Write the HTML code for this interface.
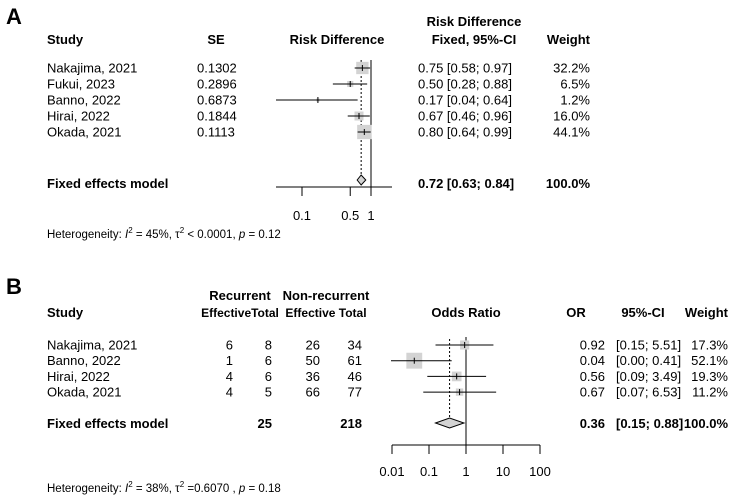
<!DOCTYPE html>
<html><head><meta charset="utf-8"><style>
body{margin:0;background:#fff}
svg{font-family:"Liberation Sans",Arial,sans-serif;font-size:13px}
.b{font-weight:bold}
</style></head><body>
<svg width="732" height="499" viewBox="0 0 732 499">
<g id="A">
<text x="6" y="24" font-size="22" class="b">A</text>
<text x="47" y="44" class="b">Study</text>
<text x="216" y="44" class="b" text-anchor="middle">SE</text>
<text x="337" y="44" class="b" text-anchor="middle">Risk Difference</text>
<text x="474" y="26" class="b" text-anchor="middle">Risk Difference</text>
<text x="474" y="44" class="b" text-anchor="middle">Fixed, 95%-CI</text>
<text x="590" y="44" class="b" text-anchor="end">Weight</text>
<g id="Arows"></g>
<text x="47" y="188" class="b">Fixed effects model</text>
<text x="418" y="188" class="b">0.72 [0.63; 0.84]</text>
<text x="590" y="188" class="b" text-anchor="end">100.0%</text>
<g id="Aaxis"></g>
<text x="47" y="238" font-size="11.5">Heterogeneity: <tspan font-style="italic">I</tspan><tspan dy="-5" font-size="8">2</tspan><tspan dy="5"> = 45%, τ</tspan><tspan dy="-5" font-size="8">2</tspan><tspan dy="5"> &lt; 0.0001, </tspan><tspan font-style="italic">p</tspan> = 0.12</text>
</g>
<g id="B">
<text x="6" y="294" font-size="22" class="b">B</text>
<text x="240" y="300" class="b" text-anchor="middle">Recurrent</text>
<text x="326" y="300" class="b" text-anchor="middle">Non-recurrent</text>
<text x="47" y="317" class="b">Study</text>
<text x="240" y="317" class="b" text-anchor="middle" font-size="12">EffectiveTotal</text>
<text x="326" y="317" class="b" text-anchor="middle" font-size="12">Effective Total</text>
<text x="466" y="317" class="b" text-anchor="middle">Odds Ratio</text>
<text x="576" y="317" class="b" text-anchor="middle">OR</text>
<text x="643" y="317" class="b" text-anchor="middle">95%-CI</text>
<text x="728" y="317" class="b" text-anchor="end">Weight</text>
<g id="Brows"></g>
<text x="47" y="428" class="b">Fixed effects model</text>
<text x="272" y="428" class="b" text-anchor="end">25</text>
<text x="362" y="428" class="b" text-anchor="end">218</text>
<text x="605" y="428" class="b" text-anchor="end">0.36</text>
<text x="616" y="428" class="b">[0.15; 0.88]</text>
<text x="728" y="428" class="b" text-anchor="end">100.0%</text>
<g id="Baxis"></g>
<text x="47" y="492" font-size="11.5">Heterogeneity: <tspan font-style="italic">I</tspan><tspan dy="-5" font-size="8">2</tspan><tspan dy="5"> = 38%, τ</tspan><tspan dy="-5" font-size="8">2</tspan><tspan dy="5"> =0.6070 , </tspan><tspan font-style="italic">p</tspan> = 0.18</text>
</g>
</svg>
<script>
const NS="http://www.w3.org/2000/svg";
const aStudies=["Nakajima, 2021","Fukui, 2023","Banno, 2022","Hirai, 2022","Okada, 2021"];
const aSE=["0.1302","0.2896","0.6873","0.1844","0.1113"];
const aEst=[0.75,0.50,0.17,0.67,0.80];
const aLo=[0.58,0.28,0.04,0.46,0.64];
const aHi=[0.97,0.88,0.64,0.96,0.99];
const aW=[32.2,6.5,1.2,16.0,44.1];
const aFixed=[0.72,0.63,0.84];
const aTicks=[0.1,0.5,1];
const bStudies=["Nakajima, 2021","Banno, 2022","Hirai, 2022","Okada, 2021"];
const bRecE=[6,1,4,4];
const bRecT=[8,6,6,5];
const bNonE=[26,50,36,66];
const bNonT=[34,61,46,77];
const bEst=[0.92,0.04,0.56,0.67];
const bLo=[0.15,0.00,0.09,0.07];
const bHi=[5.51,0.41,3.49,6.53];
const bW=[17.3,52.1,19.3,11.2];
const bFixed=[0.36,0.15,0.88];
const bTicks=[0.01,0.1,1,10,100];
const bTickLabels=["0.01","0.1","1","10","100"];
function el(p,tag,attrs,txt){const e=document.createElementNS(NS,tag);for(const k in attrs)e.setAttribute(k,attrs[k]);if(txt!==undefined)e.textContent=txt;p.appendChild(e);return e;}
function f2(v){return v.toFixed(2);}
// Panel A
const xA=v=>371+69*Math.log10(v);
const yA=i=>68+16*i;
const gA=document.getElementById('Arows');
el(gA,'line',{x1:xA(aFixed[0]),x2:xA(aFixed[0]),y1:60,y2:180,stroke:'#000','stroke-dasharray':'2,2'});
el(gA,'line',{x1:xA(1),x2:xA(1),y1:60,y2:187,stroke:'#000'});
aStudies.forEach((s,i)=>{const y=yA(i);
 let t=el(gA,'text',{x:47,y:y+4.5},s);
 t=el(gA,'text',{x:197,y:y+4.5},aSE[i]);
 const sz=2*Math.sqrt(aW[i])+1;
 const sq=el(gA,'rect',{x:xA(aEst[i])-sz/2,y:y-sz/2,width:sz,height:sz,fill:'#d3d3d3'});
 const ln=el(gA,'line',{x1:Math.max(276,xA(aLo[i])),x2:xA(aHi[i]),y1:y,y2:y,stroke:'#000'});
 el(gA,'line',{x1:xA(aEst[i]),x2:xA(aEst[i]),y1:y-3,y2:y+3,stroke:'#000'});
 t=el(gA,'text',{x:418,y:y+4.5},f2(aEst[i])+" ["+f2(aLo[i])+"; "+f2(aHi[i])+"]");
 t=el(gA,'text',{x:590,y:y+4.5,'text-anchor':'end'},aW[i].toFixed(1)+"%");
});
const dA=el(gA,'polygon',{points:`${xA(aFixed[1])},180 ${xA(aFixed[0])},175 ${xA(aFixed[2])},180 ${xA(aFixed[0])},185`,fill:'#d3d3d3',stroke:'#000'});

const axA=document.getElementById('Aaxis');
el(axA,'line',{x1:276,x2:392,y1:187,y2:187,stroke:'#000'});
aTicks.forEach(v=>{el(axA,'line',{x1:xA(v),x2:xA(v),y1:187,y2:196,stroke:'#000'});
 const t=el(axA,'text',{x:xA(v),y:220,'text-anchor':'middle'},String(v));});
// Panel B
const xB=v=>466+37*Math.log10(Math.max(v,0.0001));
const yB=i=>345+15.7*i;
const gB=document.getElementById('Brows');
el(gB,'line',{x1:xB(bFixed[0]),x2:xB(bFixed[0]),y1:339,y2:423,stroke:'#000','stroke-dasharray':'2,2'});
el(gB,'line',{x1:xB(1),x2:xB(1),y1:337,y2:445,stroke:'#000'});
bStudies.forEach((s,i)=>{const y=yB(i);
 let t=el(gB,'text',{x:47,y:y+4.5},s);
 [[bRecE,233],[bRecT,272],[bNonE,320],[bNonT,362]].forEach(([arr,x])=>{const tt=el(gB,'text',{x:x,y:y+4.5,'text-anchor':'end'},String(arr[i]));});
 const sz=2.2*Math.sqrt(bW[i]);
 const sq=el(gB,'rect',{x:xB(bEst[i])-sz/2,y:y-sz/2,width:sz,height:sz,fill:'#d3d3d3'});
 const ln=el(gB,'line',{x1:Math.max(391,xB(bLo[i])),x2:xB(bHi[i]),y1:y,y2:y,stroke:'#000'});
 el(gB,'line',{x1:xB(bEst[i]),x2:xB(bEst[i]),y1:y-3,y2:y+3,stroke:'#000'});
 t=el(gB,'text',{x:605,y:y+4.5,'text-anchor':'end'},f2(bEst[i]));
 t=el(gB,'text',{x:616,y:y+4.5},"["+f2(bLo[i])+"; "+f2(bHi[i])+"]");
 t=el(gB,'text',{x:728,y:y+4.5,'text-anchor':'end'},bW[i].toFixed(1)+"%");
});
const dB=el(gB,'polygon',{points:`${xB(bFixed[1])},423 ${xB(bFixed[0])},418 ${xB(bFixed[2])},423 ${xB(bFixed[0])},428`,fill:'#d3d3d3',stroke:'#000'});

const axB=document.getElementById('Baxis');
el(axB,'line',{x1:xB(0.01),x2:xB(100),y1:445,y2:445,stroke:'#000'});
bTicks.forEach((v,i)=>{el(axB,'line',{x1:xB(v),x2:xB(v),y1:445,y2:454,stroke:'#000'});
 const t=el(axB,'text',{x:xB(v),y:476,'text-anchor':'middle'},bTickLabels[i]);});
</script>
</body></html>
